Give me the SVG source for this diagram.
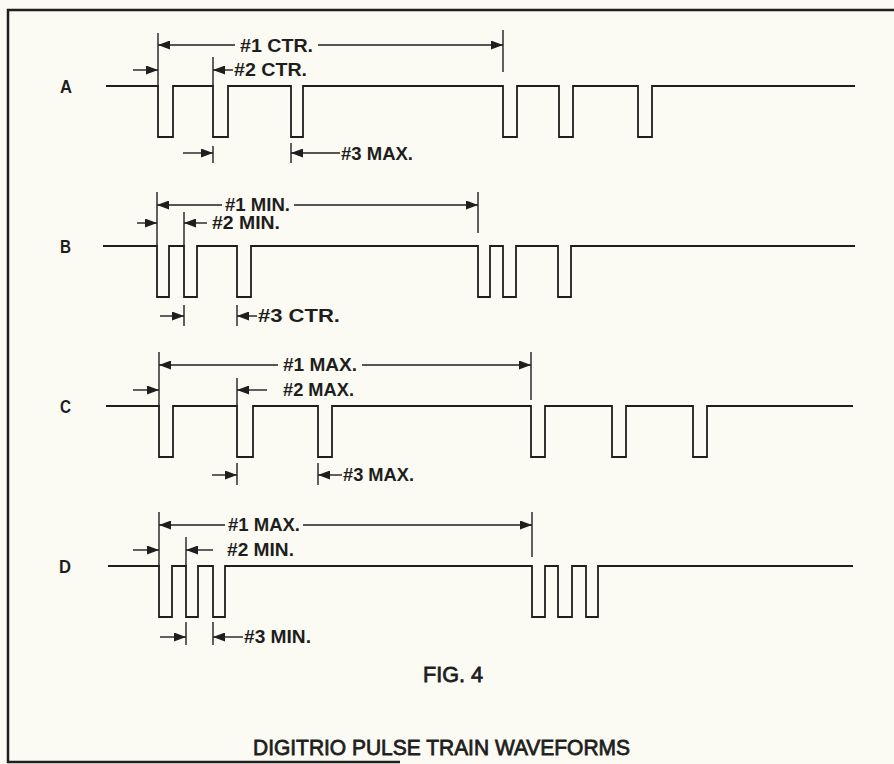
<svg xmlns="http://www.w3.org/2000/svg" width="894" height="764" viewBox="0 0 894 764">
<defs>
<marker id="ah" markerUnits="userSpaceOnUse" markerWidth="12" markerHeight="9" viewBox="0 0 12 9" refX="12" refY="4.5" orient="auto">
<path d="M0,0 L12,4.5 L0,9 z" fill="#1e1e1e"/>
</marker>
</defs>
<style>
.bg{fill:#fbfaf3}
.frame{fill:none;stroke:#1e1e1e;stroke-width:2.5}
.wave{fill:none;stroke:#1e1e1e;stroke-width:1.8}
.ext{stroke:#1e1e1e;stroke-width:1.4}
.dim{stroke:#1e1e1e;stroke-width:1.4;marker-end:url(#ah)}
.lbl{font-family:"Liberation Sans",Arial,sans-serif;font-weight:bold;font-size:18px;fill:#1e1e1e}
.row{font-family:"Liberation Sans",Arial,sans-serif;font-weight:bold;font-size:19px;fill:#1e1e1e}
.cap{font-family:"Liberation Sans",Arial,sans-serif;font-size:22px;fill:#1e1e1e;stroke:#1e1e1e;stroke-width:0.8}
</style>
<rect class="bg" x="0" y="0" width="894" height="764"/>
<g id="frame">
<path class="frame" d="M894,10 H8 V762 H400"/>
</g>

<g id="waveA">
<text class="row" x="60" y="93" textLength="12" lengthAdjust="spacingAndGlyphs">A</text>
<path class="wave" d="M106,86 H158 V137 H173 V86 H213 V137 H228 V86 H291 V137 H303 V86 H503 V137 H517 V86 H559 V137 H573 V86 H638 V137 H652 V86 H855"/>
</g>
<g id="waveB">
<text class="row" x="60" y="253" textLength="11" lengthAdjust="spacingAndGlyphs">B</text>
<path class="wave" d="M103,246 H157 V297 H169 V246 H184 V297 H197 V246 H237 V297 H251 V246 H478 V297 H490 V246 H503 V297 H516 V246 H558 V297 H571 V246 H855"/>
</g>
<g id="waveC">
<text class="row" x="60" y="413" textLength="11" lengthAdjust="spacingAndGlyphs">C</text>
<path class="wave" d="M106,406 H159 V457 H173 V406 H237 V457 H253 V406 H318 V457 H332 V406 H531 V457 H545 V406 H612 V457 H626 V406 H693 V457 H707 V406 H853"/>
</g>
<g id="waveD">
<text class="row" x="59" y="573" textLength="12" lengthAdjust="spacingAndGlyphs">D</text>
<path class="wave" d="M108,566 H159 V617 H172 V566 H186 V617 H198 V566 H213 V617 H225 V566 H532 V617 H545 V566 H558 V617 H572 V566 H586 V617 H598 V566 H853"/>
</g>

<g id="connectors">
<line class="ext" x1="158" y1="33" x2="158" y2="86"/>
<line class="ext" x1="503" y1="30" x2="503" y2="72"/>
<line class="ext" x1="213" y1="57" x2="213" y2="86"/>
<line class="ext" x1="213" y1="146" x2="213" y2="163"/>
<line class="ext" x1="291" y1="143" x2="291" y2="163"/>
<line class="dim" x1="235" y1="45" x2="158" y2="45"/>
<line class="dim" x1="318" y1="45" x2="503" y2="45"/>
<line class="dim" x1="233" y1="70" x2="213" y2="70"/>
<line class="dim" x1="133" y1="70" x2="158" y2="70"/>
<line class="dim" x1="183" y1="153" x2="213" y2="153"/>
<line class="dim" x1="340" y1="153" x2="291" y2="153"/>

<line class="ext" x1="157" y1="192" x2="157" y2="246"/>
<line class="ext" x1="478" y1="192" x2="478" y2="233"/>
<line class="ext" x1="184" y1="212" x2="184" y2="246"/>
<line class="ext" x1="184" y1="305" x2="184" y2="326"/>
<line class="ext" x1="237" y1="305" x2="237" y2="326"/>
<line class="dim" x1="222" y1="205" x2="157" y2="205"/>
<line class="dim" x1="294" y1="205" x2="478" y2="205"/>
<line class="dim" x1="207" y1="223" x2="184" y2="223"/>
<line class="dim" x1="137" y1="223" x2="157" y2="223"/>
<line class="dim" x1="160" y1="316" x2="184" y2="316"/>
<line class="dim" x1="257" y1="316" x2="237" y2="316"/>

<line class="ext" x1="159" y1="352" x2="159" y2="406"/>
<line class="ext" x1="531" y1="352" x2="531" y2="400"/>
<line class="ext" x1="237" y1="378" x2="237" y2="406"/>
<line class="ext" x1="237" y1="463" x2="237" y2="485"/>
<line class="ext" x1="318" y1="463" x2="318" y2="485"/>
<line class="dim" x1="278" y1="365" x2="159" y2="365"/>
<line class="dim" x1="362" y1="365" x2="531" y2="365"/>
<line class="dim" x1="267" y1="390" x2="237" y2="390"/>
<line class="dim" x1="133" y1="390" x2="159" y2="390"/>
<line class="dim" x1="212" y1="475" x2="237" y2="475"/>
<line class="dim" x1="342" y1="475" x2="318" y2="475"/>

<line class="ext" x1="159" y1="512" x2="159" y2="566"/>
<line class="ext" x1="532" y1="512" x2="532" y2="557"/>
<line class="ext" x1="186" y1="537" x2="186" y2="566"/>
<line class="ext" x1="186" y1="622" x2="186" y2="645"/>
<line class="ext" x1="213" y1="622" x2="213" y2="645"/>
<line class="dim" x1="225" y1="525" x2="159" y2="525"/>
<line class="dim" x1="303" y1="525" x2="532" y2="525"/>
<line class="dim" x1="213" y1="550" x2="186" y2="550"/>
<line class="dim" x1="133" y1="550" x2="159" y2="550"/>
<line class="dim" x1="160" y1="637" x2="186" y2="637"/>
<line class="dim" x1="243" y1="637" x2="213" y2="637"/>
</g>

<g id="labels">
<text class="lbl" x="240" y="52" textLength="73" lengthAdjust="spacingAndGlyphs">#1 CTR.</text>
<text class="lbl" x="234" y="76" textLength="73" lengthAdjust="spacingAndGlyphs">#2 CTR.</text>
<text class="lbl" x="341" y="160" textLength="72" lengthAdjust="spacingAndGlyphs">#3 MAX.</text>
<text class="lbl" x="225" y="211" textLength="65" lengthAdjust="spacingAndGlyphs">#1 MIN.</text>
<text class="lbl" x="212" y="229" textLength="68" lengthAdjust="spacingAndGlyphs">#2 MIN.</text>
<text class="lbl" x="258" y="322" textLength="82" lengthAdjust="spacingAndGlyphs">#3 CTR.</text>
<text class="lbl" x="283" y="371" textLength="74" lengthAdjust="spacingAndGlyphs">#1 MAX.</text>
<text class="lbl" x="283" y="396" textLength="71" lengthAdjust="spacingAndGlyphs">#2 MAX.</text>
<text class="lbl" x="343" y="481" textLength="71" lengthAdjust="spacingAndGlyphs">#3 MAX.</text>
<text class="lbl" x="228" y="531" textLength="72" lengthAdjust="spacingAndGlyphs">#1 MAX.</text>
<text class="lbl" x="227" y="556" textLength="67" lengthAdjust="spacingAndGlyphs">#2 MIN.</text>
<text class="lbl" x="244" y="643" textLength="67" lengthAdjust="spacingAndGlyphs">#3 MIN.</text>
</g>

<g id="caption">
<text class="cap" x="423" y="682" textLength="60" lengthAdjust="spacingAndGlyphs">FIG. 4</text>
<text class="cap" x="253" y="755" textLength="377" lengthAdjust="spacingAndGlyphs">DIGITRIO PULSE TRAIN WAVEFORMS</text>
</g>
</svg>
